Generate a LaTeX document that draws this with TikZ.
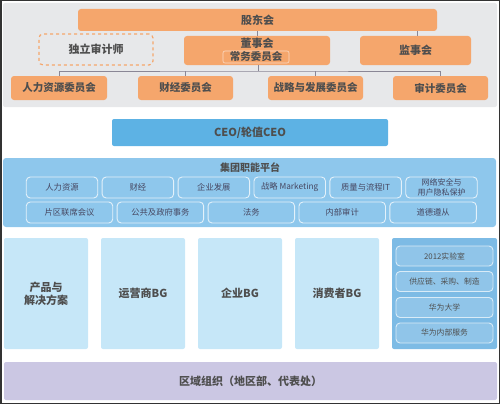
\documentclass[tikz,border=0pt]{standalone}
\usepackage{fontspec}
\setmainfont{Noto Sans CJK SC}
\usetikzlibrary{positioning}
\definecolor{orgfill}{HTML}{F5A66C}
\definecolor{boardbg}{HTML}{E7E8EA}
\definecolor{ceoblue}{HTML}{5DB2E4}
\definecolor{platblue}{HTML}{8EC7EC}
\definecolor{bgblue}{HTML}{C6E7F8}
\definecolor{sideblue}{HTML}{7DBBE5}
\definecolor{regionlav}{HTML}{CBC7E3}
\definecolor{txtgray}{HTML}{4E4E4E}
\definecolor{linegray}{HTML}{8A8796}

\begin{document}
\begin{tikzpicture}[x=1pt, y=-1pt,
                    font=\bfseries\color{txtgray},
                    org/.style={fill=orgfill, rounded corners=3pt, inner sep=0pt, minimum height=#1},
                    org/.default=24pt,
                    wide/.style={minimum width=#1},
                    item/.style={draw=white!75!platblue, line width=0.9pt, fill=platblue, rounded corners=4pt,
                                 inner sep=0pt, minimum height=21pt, font=\fontsize{8.3}{8.5}\selectfont\color{txtgray!90!blue}},
                    bg/.style={fill=bgblue, rounded corners=2pt, inner sep=0pt, minimum width=84pt, minimum height=111pt,
                               align=center, font=\fontsize{11}{13}\selectfont\bfseries\color{txtgray}},
                    side/.style={draw=white!70!sideblue, line width=0.9pt, fill=sideblue!85!white, rounded corners=4pt,
                                 inner sep=0pt, minimum width=97pt, minimum height=20pt, font=\fontsize{7.8}{8}\selectfont\color{txtgray}},
                    link/.style={draw=linegray, line width=0.8pt}]

\useasboundingbox (0,0) rectangle (500,404);
\draw [black!80, line width=1.5pt] (0.75,0.75) rectangle (499.25,403.25);

% board area
\fill [boardbg, rounded corners=2pt] (3,3) rectangle (497,107);

\node [org=22pt, wide=359pt, font=\fontsize{11}{12}\selectfont\bfseries\color{txtgray}] (gdh) at (257.5,20) {股东会};
\node [draw=orgfill, dashed, line width=1.2pt, fill=boardbg, rounded corners=4pt, minimum width=114pt, minimum height=31pt,
       font=\fontsize{11}{12}\selectfont\bfseries\color{txtgray}] (audit) at (96,49.5) {独立审计师};
\node [org=29pt, wide=146pt] (dsh) at (257,50.5) {};
\node [font=\fontsize{11}{12}\selectfont\bfseries\color{txtgray}] (dshtxt) at (257,43) {董事会};
\node [draw=orgfill!40!white, line width=0.6pt, fill=orgfill, rounded corners=2pt, inner sep=0pt, minimum width=66pt,
       minimum height=12pt, font=\fontsize{10.5}{11}\selectfont\bfseries\color{txtgray}] (cwh) at (256,57) {常务委员会};
\node [org=29pt, wide=111pt, font=\fontsize{11}{12}\selectfont\bfseries\color{txtgray}] (jsh) at (415.5,50.5) {监事会};

\node [org, wide=96pt, font=\fontsize{10.5}{12}\selectfont\bfseries\color{txtgray}] (hrc) at (59,88) {人力资源委员会};
\node [org, wide=95pt, font=\fontsize{10.5}{12}\selectfont\bfseries\color{txtgray}] (fnc) at (185.5,88) {财经委员会};
\node [org, wide=95pt, font=\fontsize{10.5}{12}\selectfont\bfseries\color{txtgray}] (stc) at (315.5,88) {战略与发展委员会};
\node [org, wide=95pt, font=\fontsize{10.5}{12}\selectfont\bfseries\color{txtgray}] (auc) at (440.5,88) {审计委员会};

\coordinate (bus) at (258,71);
\draw [link] (gdh.south -| dsh.north) -- (dsh.north);
\draw [link] (gdh.south -| 417,0) -- (jsh.north -| 417,0);
\draw [link] (dsh.south -| bus) -- (bus);
\draw [link] (hrc.north) |- (bus) -| (auc.north);
\draw [link] (fnc.north) -- (fnc.north |- bus);
\draw [link] (stc.north) -- (stc.north |- bus);

% CEO and platform
\node [fill=ceoblue, rounded corners=2pt, inner sep=0pt, minimum width=276pt, minimum height=27pt,
       font=\fontsize{11}{12}\selectfont\bfseries\color{txtgray}] (ceo) at (250,132.5) {CEO/轮值CEO};

\node [fill=platblue, rounded corners=3pt, inner sep=0pt, minimum width=493pt, minimum height=69pt] (plat) at (249.5,192.5) {};
\node [font=\fontsize{10}{11}\selectfont\bfseries\color{txtgray}] (plattxt) at (250,168) {集团职能平台};

\node [item, minimum width=71.5pt] (hr) at (62,187.5) {人力资源};
\node [item, minimum width=71.5pt, right=3.5pt of hr] (fin) {财经};
\node [item, minimum width=71.5pt, right=3.5pt of fin] (corp) {企业发展};
\node [item, minimum width=71.5pt, right=3.5pt of corp] (mkt) {战略 Marketing};
\node [item, minimum width=71.5pt, right=3.5pt of mkt] (qit) {质量与流程IT};
\node [item, minimum width=71.5pt, right=3.5pt of qit, align=center, font=\fontsize{8}{9.4}\selectfont\color{txtgray!90!blue}] (sec) {网络安全与\\用户隐私保护};

\node [item, minimum width=86.5pt] (jnt) at (69.5,212.5) {片区联席会议};
\node [item, minimum width=86.5pt, right=3.5pt of jnt] (pub) {公共及政府事务};
\node [item, minimum width=86.5pt, right=3.5pt of pub] (law) {法务};
\node [item, minimum width=86.5pt, right=3.5pt of law] (iau) {内部审计};
\node [item, minimum width=86.5pt, right=3.5pt of iau] (eth) {道德遵从};

% business groups
\node [bg] (prd) at (46,293.5) {产品与\\解决方案};
\node [bg] (car) at (143,293.5) {运营商BG};
\node [bg] (ent) at (240,293.5) {企业BG};
\node [bg] (con) at (337,293.5) {消费者BG};

\node [fill=sideblue, rounded corners=2pt, inner sep=0pt, minimum width=105pt, minimum height=111pt] (sup) at (444.5,293.5) {};
\node [side] (lab) at (444.5,256) {2012实验室};
\node [side] (scm) at (444.5,281.5) {供应链、采购、制造};
\node [side] (uni) at (444.5,307.5) {华为大学};
\node [side] (isv) at (444.5,333) {华为内部服务};

% regions
\node [fill=regionlav, rounded corners=2pt, inner sep=0pt, minimum width=493pt, minimum height=38pt,
       font=\fontsize{11}{12}\selectfont\bfseries\color{txtgray}] (reg) at (250.5,381) {区域组织（地区部、代表处）};
\end{tikzpicture}
\end{document}
